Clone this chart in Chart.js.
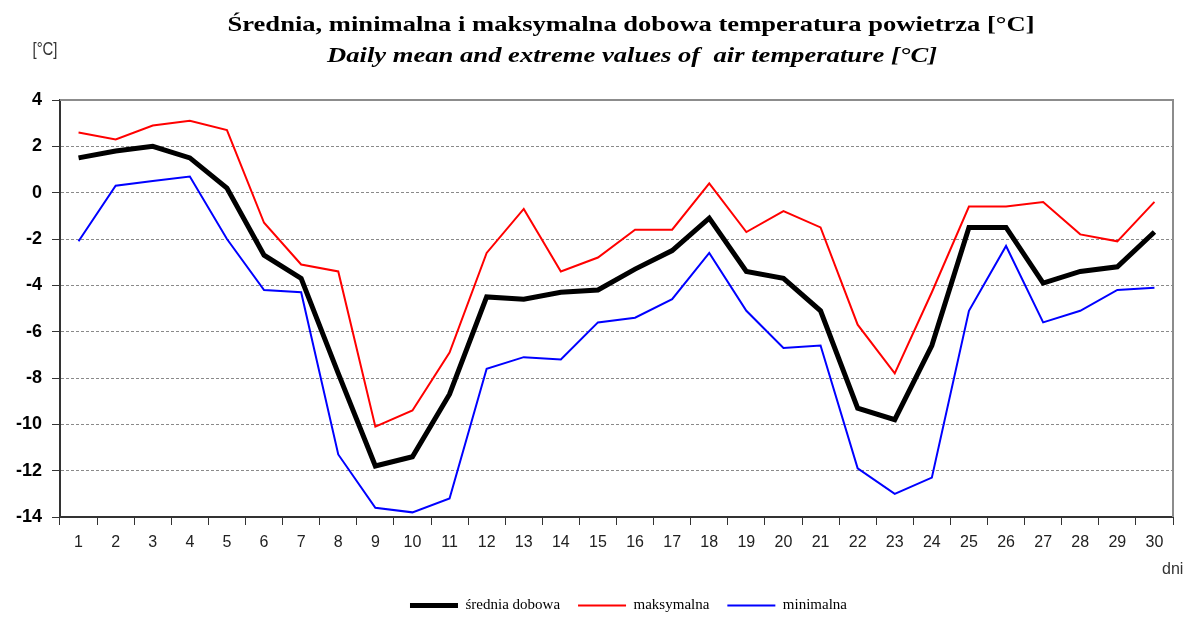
<!DOCTYPE html>
<html>
<head>
<meta charset="utf-8">
<script src="https://cdn.jsdelivr.net/npm/chart.js@4/dist/chart.umd.min.js"></script>
<style>
    html, body { margin: 0; padding: 0; background: #fff; }
    canvas { display: block; }
</style>
</head>
<body>
<canvas id="grafica" width="1199" height="617"></canvas>
<script>
(function() {

    const dni = ['1','2','3','4','5','6','7','8','9','10','11','12','13','14','15','16','17','18','19','20','21','22','23','24','25','26','27','28','29','30'];

    const srednia = [1.5, 1.8, 2.0, 1.5, 0.2, -2.7, -3.7, -7.8, -11.8, -11.4, -8.7, -4.5, -4.6, -4.3, -4.2, -3.3, -2.5, -1.1, -3.4, -3.7, -5.1, -9.3, -9.8, -6.6, -1.5, -1.5, -3.9, -3.4, -3.2, -1.7];
    const maksymalna = [2.6, 2.3, 2.9, 3.1, 2.7, -1.3, -3.1, -3.4, -10.1, -9.4, -6.9, -2.6, -0.7, -3.4, -2.8, -1.6, -1.6, 0.4, -1.7, -0.8, -1.5, -5.7, -7.8, -4.3, -0.6, -0.6, -0.4, -1.8, -2.1, -0.4];
    const minimalna = [-2.1, 0.3, 0.5, 0.7, -2.0, -4.2, -4.3, -11.3, -13.6, -13.8, -13.2, -7.6, -7.1, -7.2, -5.6, -5.4, -4.6, -2.6, -5.1, -6.7, -6.6, -11.9, -13.0, -12.3, -5.1, -2.3, -5.6, -5.1, -4.2, -4.1];

    const osY = { min: -14, max: 4, krok: 2 };

    const tytul = 'Średnia, minimalna i maksymalna dobowa temperatura powietrza [°C]';
    const podtytul = 'Daily mean and extreme values of  air temperature [°C]';

    const grafica = document.querySelector('#grafica');

    // napisy, ramka i przesuniecie legendy
    const dodatki = {
        id: 'dodatki',
        afterLayout(chart) {
            const legenda = chart.legend;
            legenda.left += 42;
            legenda.right += 42;
            legenda.top += 6;
            legenda.bottom += 6;
        },
        afterDraw(chart) {
            const ctx = chart.ctx;
            const area = chart.chartArea;

            ctx.save();
            ctx.strokeStyle = '#8c8c8c';
            ctx.lineWidth = 2;
            ctx.beginPath();
            ctx.moveTo(area.left, area.top);
            ctx.lineTo(area.right, area.top);
            ctx.lineTo(area.right, area.bottom);
            ctx.stroke();
            ctx.restore();

            const napis = (text, font, color, cx, baseline, width) => {
                ctx.save();
                ctx.font = font;
                ctx.fillStyle = color;
                ctx.textBaseline = 'alphabetic';
                ctx.textAlign = 'center';
                const w = ctx.measureText(text).width;
                ctx.translate(cx, baseline);
                ctx.scale(width / w, 1);
                ctx.fillText(text, 0, 0);
                ctx.restore();
            };

            napis(tytul, 'bold 22px "Liberation Serif"', '#000', 631, 31, 807);
            napis(podtytul, 'italic bold 22px "Liberation Serif"', '#000', 632, 62, 610);
            napis('[°C]', '19px "Liberation Sans"', '#333', 45, 55, 25);

            ctx.save();
            ctx.fillStyle = '#333';
            ctx.font = '16px "Liberation Sans"';
            ctx.textAlign = 'left';
            ctx.fillText('dni', 1162, 570);
            ctx.restore();
        }
    };

    new Chart(grafica, {
        type: 'line',
        data: {
            labels: dni,
            datasets: [{
                label: 'średnia dobowa',
                data: srednia,
                borderColor: '#000000',
                backgroundColor: '#000000',
                borderWidth: 5
            }, {
                label: 'maksymalna',
                data: maksymalna,
                borderColor: '#ff0000',
                backgroundColor: '#ff0000',
                borderWidth: 2
            }, {
                label: 'minimalna',
                data: minimalna,
                borderColor: '#0000ff',
                backgroundColor: '#0000ff',
                borderWidth: 2
            }]
        },
        options: {
            responsive: false,
            animation: false,
            devicePixelRatio: 1,
            elements: {
                point: { radius: 0, hoverRadius: 0 },
                line: { tension: 0, borderJoinStyle: 'miter' }
            },
            layout: {
                padding: { top: 100, right: 26, left: 0, bottom: 0 }
            },
            scales: {
                x: {
                    offset: true,
                    grid: {
                        offset: true,
                        drawOnChartArea: false,
                        tickLength: 8,
                        tickColor: '#333',
                        color: '#333'
                    },
                    border: { color: '#333', width: 2 },
                    ticks: {
                        color: '#222',
                        font: { family: 'Liberation Sans', size: 16 },
                        padding: 8,
                        maxRotation: 0,
                        autoSkip: false
                    },
                    afterFit(scale) {
                        scale.height = 57;
                    }
                },
                y: {
                    min: osY.min,
                    max: osY.max,
                    grid: {
                        color: (c) => (c.tick.value === osY.min || c.tick.value === osY.max) ? 'rgba(0,0,0,0)' : '#8a8a8a',
                        tickColor: '#333',
                        tickLength: 8
                    },
                    border: { color: '#333', width: 2, dash: [3, 2] },
                    ticks: {
                        stepSize: osY.krok,
                        color: '#000',
                        font: { family: 'Liberation Sans', size: 18, weight: 'bold' },
                        padding: 10
                    },
                    afterFit(scale) {
                        scale.width = 60;
                    }
                }
            },
            plugins: {
                legend: {
                    position: 'bottom',
                    labels: {
                        usePointStyle: true,
                        pointStyle: 'line',
                        pointStyleWidth: 48,
                        color: '#000',
                        font: { family: 'Liberation Serif', size: 15 },
                        padding: 18
                    }
                },
                tooltip: { enabled: false }
            }
        },
        plugins: [dodatki]
    });

})();
</script>
</body>
</html>
